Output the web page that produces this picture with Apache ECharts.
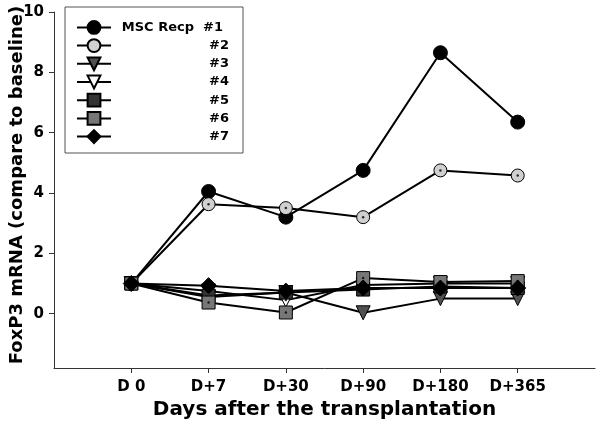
<!DOCTYPE html>
<html>
<head>
<meta charset="utf-8">
<script src="https://cdn.jsdelivr.net/npm/echarts@6/dist/echarts.min.js"></script>
<style>html,body{margin:0;padding:0;background:#fff}#c{width:600px;height:423px}</style>
</head>
<body>
<div id="c"></div>
<script>
var categories = ['D 0', 'D+7', 'D+30', 'D+90', 'D+180', 'D+365'];
var yTicks = [0, 2, 4, 6, 8, 10];
var s1 = [1, 4.05, 3.2, 4.75, 8.65, 6.35];
var s2 = [1, 3.63, 3.5, 3.2, 4.75, 4.58];
var s3 = [1, 0.55, 0.7, 0.03, 0.5, 0.5];
var s4 = [1, 0.75, 0.45, 0.95, 1.0, 1.0];
var s5 = [1, 0.6, 0.7, 0.8, 0.9, 0.85];
var s6 = [1, 0.37, 0.04, 1.18, 1.05, 1.08];
var s7 = [1, 0.93, 0.75, 0.85, 0.85, 0.85];
var names = ['MSC Recp  #1', '#2', '#3', '#4', '#5', '#6', '#7'];

var FONT = 'DejaVu Sans';

function pts(arr) { return arr.map(function (v, i) { return [i, v]; }); }

var styles = [
  { symbol: 'circle', size: 14, fill: '#000', rot: 0 },
  { symbol: 'circle', size: 13, fill: '#d0d0d0', rot: 0 },
  { symbol: 'triangle', size: 14, fill: '#505050', rot: 180 },
  { symbol: 'triangle', size: 14, fill: '#ffffff', rot: 180 },
  { symbol: 'rect', size: 13, fill: '#333333', rot: 0 },
  { symbol: 'rect', size: 13, fill: '#777777', rot: 0 },
  { symbol: 'diamond', size: 16, fill: '#000', rot: 0 }
];
var data = [s1, s2, s3, s4, s5, s6, s7];
var series = data.map(function (arr, k) {
  var st = styles[k];
  return {
    name: names[k], type: 'line', data: pts(arr),
    symbol: st.symbol, symbolSize: st.size, symbolRotate: st.rot,
    lineStyle: { color: '#000', width: 2 },
    itemStyle: { color: st.fill, borderColor: '#000', borderWidth: 1 },
    z: 2 + k
  };
});
[1, 3, 5].forEach(function (k) {
  series.push({
    name: 'dot' + k, type: 'scatter', data: pts(data[k]),
    symbol: 'circle', symbolSize: 2.5,
    itemStyle: { color: '#000' }, z: 20, silent: true
  });
});

var chart = echarts.init(document.getElementById('c'));
chart.setOption({
  animation: false,
  backgroundColor: '#fff',
  grid: { left: 54, top: 12, right: 5, bottom: 55, containLabel: false, outerBoundsMode: 'none' },
  legend: {
    data: names, orient: 'vertical', left: 65, top: 7,
    padding: [13, 14, 9, 11], itemWidth: 34, itemHeight: 16, itemGap: 3.4,
    backgroundColor: '#fff', borderColor: '#555', borderWidth: 1,
    formatter: function (n) { return n === names[0] ? '{b|' + n + '}' : '{a|' + n + '}'; },
    textStyle: {
      rich: {
        a: { width: 113, align: 'right', fontFamily: FONT, fontWeight: 'bold', fontSize: 13, color: '#000' },
        b: { width: 107, padding: [0, 6, 0, 0], align: 'right', fontFamily: FONT, fontWeight: 'bold', fontSize: 13, color: '#000' }
      }
    }
  },
  xAxis: {
    type: 'value', min: -1, max: 6, interval: 1,
    name: 'Days after the transplantation', nameLocation: 'middle', nameGap: 30,
    nameTextStyle: { fontFamily: FONT, fontWeight: 'bold', fontSize: 20, color: '#000' },
    axisLine: { onZero: false, lineStyle: { color: '#333', width: 1 } },
    axisTick: { show: true, length: 5, lineStyle: { color: '#333' }, customValues: [0, 1, 2, 3, 4, 5] },
    axisLabel: {
      customValues: [0, 1, 2, 3, 4, 5], margin: 12,
      fontFamily: FONT, fontWeight: 'bold', fontSize: 15, color: '#000',
      formatter: function (v) { return categories[Math.round(v)] || ''; }
    },
    splitLine: { show: false }
  },
  yAxis: {
    type: 'value', min: -1.8, max: 10,
    name: 'FoxP3 mRNA (compare to baseline)', nameLocation: 'middle', nameGap: 28, nameRotate: 90,
    nameMoveOverlap: false,
    nameTextStyle: { fontFamily: FONT, fontWeight: 'bold', fontSize: 18, color: '#000', padding: [0, 0, 0, 10] },
    axisLine: { show: true, onZero: false, lineStyle: { color: '#333', width: 1 } },
    axisTick: { show: true, length: 5, lineStyle: { color: '#333' }, customValues: yTicks },
    axisLabel: {
      customValues: yTicks, margin: 10,
      fontFamily: FONT, fontWeight: 'bold', fontSize: 15, color: '#000'
    },
    splitLine: { show: false }
  },
  series: series
});
</script>
</body>
</html>
